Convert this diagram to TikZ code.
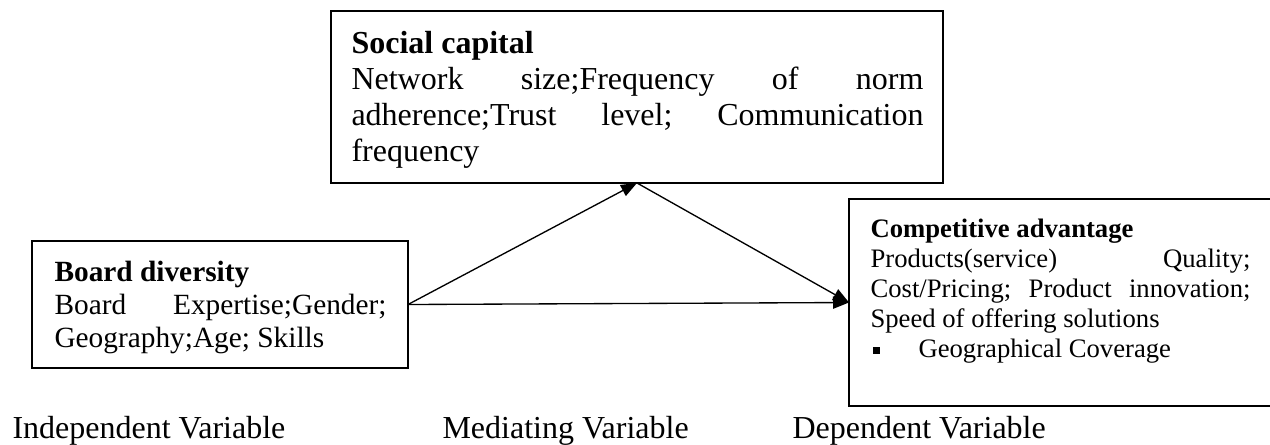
\documentclass[tikz,border=0pt]{standalone}
\usepackage{fontspec}
\setmainfont{Liberation Serif}
\usetikzlibrary{arrows.meta,positioning}

\begin{document}
\begin{tikzpicture}[x=0.375pt, y=-0.375pt,
    box/.style={draw, line width=0.8pt, inner sep=0pt, outer sep=0pt},
    txt/.style={anchor=base west, inner sep=0pt, align=justify},
    arr/.style={-{Triangle[length=6pt,width=4.6pt]}, line width=0.5pt}]
    \useasboundingbox (0,0) rectangle (1270,444);

    % Draw the three boxes
    \node[box, minimum width=229.5pt, minimum height=64.5pt] (social) at (637,97) {};
    \node[box, minimum width=141pt, minimum height=47.6pt] (board) at (220,304.5) {};
    \node[box, minimum width=160.5pt, minimum height=77.6pt] (comp) at (1063,302.5) {};

    % Box texts
    \node[txt, text width=214.5pt, font=\fontsize{12}{13.5}\selectfont] (socialtxt) at (351,53) {%
        \frenchspacing\tolerance=10000\hbadness=10000
        \textbf{Social capital}\\
        Network size;Frequency of norm\linebreak
        adherence;Trust level; Communication\linebreak
        frequency};
    \node[txt, text width=124.5pt, font=\fontsize{11}{12.4}\selectfont] (boardtxt) at (54,281) {%
        \frenchspacing\tolerance=10000\hbadness=10000
        \textbf{Board diversity}\\
        Board Expertise;Gender;\linebreak
        Geography;Age; Skills};
    \node[txt, text width=142.5pt, font=\fontsize{10}{11.25}\selectfont] (comptxt) at (870,237) {%
        \frenchspacing\tolerance=10000\hbadness=10000
        \textbf{Competitive advantage}\\
        Products(service) Quality;\linebreak
        Cost/Pricing; Product innovation;\linebreak
        Speed of offering solutions\\
        \makebox[18pt][l]{\hspace{1.1pt}\rule[1.3pt]{2.6pt}{2.6pt}}Geographical Coverage};

    % Arrows
    \draw[arr] (board.east) -- (social.south);
    \draw[arr] (social.south) -- (comp.west);
    \draw[arr] (board.east) -- (comp.west);

    % Variable labels
    \node[anchor=base west, inner sep=0pt, font=\fontsize{12}{13.5}\selectfont] (indep) at (12,438) {Independent Variable};
    \node[anchor=base west, inner sep=0pt, font=\fontsize{12}{13.5}\selectfont] (medi) at (442,438) {Mediating Variable};
    \node[anchor=base west, inner sep=0pt, font=\fontsize{12}{13.5}\selectfont] (dep) at (792,438) {Dependent Variable};
\end{tikzpicture}
\end{document}
